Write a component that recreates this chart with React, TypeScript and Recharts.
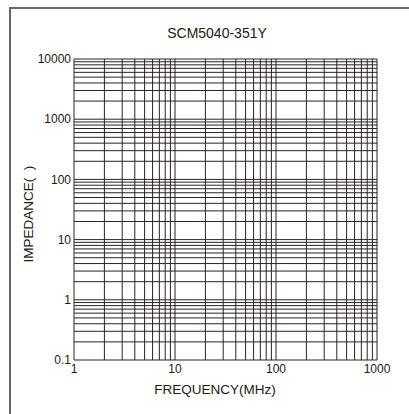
import { LineChart, XAxis, YAxis, ReferenceLine } from "recharts";

const title = "SCM5040-351Y";
const xTitle = "FREQUENCY(MHz)";
const yTitle = "IMPEDANCE(  )";

const xTicks = [1, 10, 100, 1000];
const yTicks = [0.1, 1, 10, 100, 1000, 10000];

// log grid lines, frequency (MHz)
const xGrid = [
  1, 2, 3, 4, 5, 6, 7, 8, 9,
  10, 20, 30, 40, 50, 60, 70, 80, 90,
  100, 200, 300, 400, 500, 600, 700, 800, 900,
  1000,
];
// log grid lines, impedance
const yGrid = [
  0.1, 0.2, 0.3, 0.4, 0.5, 0.6, 0.7, 0.8, 0.9,
  1, 2, 3, 4, 5, 6, 7, 8, 9,
  10, 20, 30, 40, 50, 60, 70, 80, 90,
  100, 200, 300, 400, 500, 600, 700, 800, 900,
  1000, 2000, 3000, 4000, 5000, 6000, 7000, 8000, 9000,
  10000,
];

const gridColor = "#2b2220";
const textColor = "#231815";
const font = "'Liberation Sans', Arial, sans-serif";

export default function App() {
  return (
    <div
      style={{
        position: "absolute",
        left: 0,
        top: 0,
        width: 409,
        height: 414,
        background: "#fff",
        overflow: "hidden",
        fontFamily: font,
      }}
    >
      <div
        style={{
          position: "absolute",
          left: 9,
          top: 7,
          width: 420,
          height: 420,
          borderLeft: "2px solid #6b6464",
          borderTop: "2px solid #6b6464",
        }}
      />
      <div
        style={{
          position: "absolute",
          left: 0,
          top: 0,
          width: 409,
        }}
      >
        <LineChart
          width={409}
          height={414}
          data={[]}
          margin={{ top: 59, right: 32, bottom: 34, left: 14 }}
        >
          <XAxis
            dataKey="f"
            type="number"
            scale="log"
            domain={[1, 1000]}
            ticks={xTicks}
            allowDataOverflow
            axisLine={false}
            tickLine={false}
            tickSize={0}
            tickMargin={4}
            height={20}
            tick={{ fill: textColor, fontSize: 12, fontFamily: font }}
          />
          <YAxis
            type="number"
            scale="log"
            domain={[0.1, 10000]}
            ticks={yTicks}
            allowDataOverflow
            axisLine={false}
            tickLine={false}
            tickSize={0}
            tickMargin={3}
            width={60}
            tick={{ fill: textColor, fontSize: 12, fontFamily: font }}
          />
          {xGrid.map((v) => (
            <ReferenceLine key={"x" + v} x={v} stroke={gridColor} strokeWidth={1} />
          ))}
          {yGrid.map((v) => (
            <ReferenceLine key={"y" + v} y={v} stroke={gridColor} strokeWidth={1} />
          ))}
        </LineChart>
      </div>
      <div
        style={{
          position: "absolute",
          left: 117,
          top: 25,
          width: 200,
          textAlign: "center",
          fontSize: 14,
          color: textColor,
        }}
      >
        {title}
      </div>
      <div
        style={{
          position: "absolute",
          left: 115,
          top: 382,
          width: 200,
          textAlign: "center",
          fontSize: 13.5,
          color: textColor,
        }}
      >
        {xTitle}
      </div>
      <div
        style={{
          position: "absolute",
          left: 29 - 100,
          top: 214 - 8,
          width: 200,
          textAlign: "center",
          fontSize: 13.5,
          lineHeight: "16px",
          color: textColor,
          transform: "rotate(-90deg)",
          whiteSpace: "pre",
        }}
      >
        {yTitle}
      </div>
    </div>
  );
}
